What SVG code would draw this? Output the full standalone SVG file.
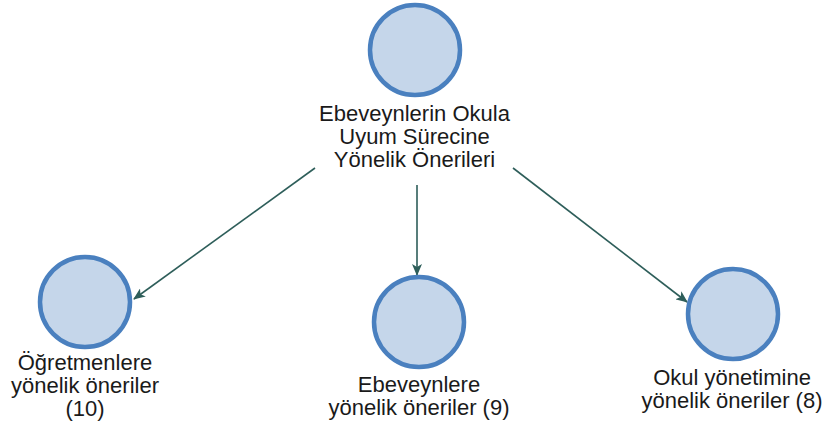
<svg xmlns="http://www.w3.org/2000/svg" width="824" height="425" viewBox="0 0 824 425">
<style>
.n{fill:#c5d6ea;stroke:#4a80bf;stroke-width:4.5}
.t{font-family:"Liberation Sans",Arial,sans-serif;font-size:22px;fill:#1a1a1a;text-anchor:middle}
.e{stroke:#2e5e5a;stroke-width:1.6;fill:none;marker-end:url(#ah)}
</style>
<defs>
<marker id="ah" viewBox="0 0 12 10" refX="11" refY="5" markerWidth="12" markerHeight="10" markerUnits="userSpaceOnUse" orient="auto">
<path d="M0,0 L12,5 L0,10 L3,5 Z" fill="#2e5e5a"/>
</marker>
</defs>
<rect width="824" height="425" fill="#fff"/>
<g id="connectors">
<line class="e" x1="315" y1="168" x2="134" y2="299"/>
<line class="e" x1="417" y1="185" x2="417" y2="275"/>
<line class="e" x1="513" y1="168" x2="687" y2="302"/>
</g>
<g id="root">
<circle class="n" cx="415" cy="50" r="45"/>
<text class="t" x="414.5" y="121">Ebeveynlerin Okula</text>
<text class="t" x="414.5" y="144">Uyum Sürecine</text>
<text class="t" x="414.5" y="167">Yönelik Önerileri</text>
</g>
<g id="ogretmen">
<circle class="n" cx="85" cy="302" r="45"/>
<text class="t" x="85" y="370">Öğretmenlere</text>
<text class="t" x="85" y="393">yönelik öneriler</text>
<text class="t" x="85" y="416">(10)</text>
</g>
<g id="ebeveyn">
<circle class="n" cx="419" cy="322" r="45"/>
<text class="t" x="419" y="392">Ebeveynlere</text>
<text class="t" x="419" y="415">yönelik öneriler (9)</text>
</g>
<g id="okul">
<circle class="n" cx="733" cy="314" r="45"/>
<text class="t" x="732" y="385">Okul yönetimine</text>
<text class="t" x="732" y="408">yönelik öneriler (8)</text>
</g>
</svg>
